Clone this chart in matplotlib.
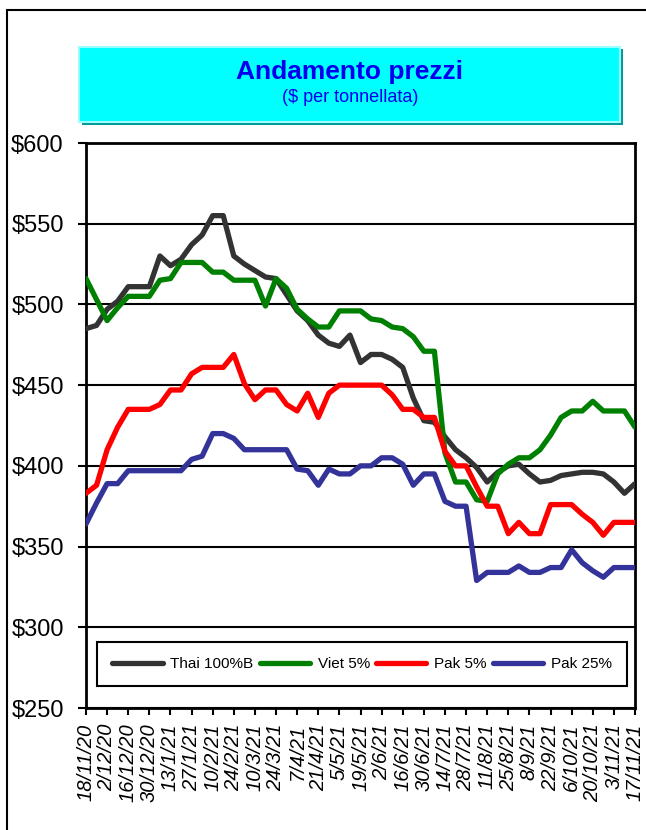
import matplotlib
matplotlib.use("Agg")
import matplotlib.pyplot as plt
from matplotlib.patches import Rectangle

# weekly prices, 18/11/20 .. 17/11/21 ($ per tonne)
thai_100b = [485, 487, 497, 502, 511, 511, 511, 530, 524, 528,
             537, 543, 555, 555, 530, 525, 521, 517, 516, 506,
             496, 490, 481, 476, 474, 481, 464, 469, 469, 466,
             461, 442, 428, 427, 418, 410, 405, 399, 390, 396,
             400, 401, 395, 390, 391, 394, 395, 396, 396, 395,
             390, 383, 389]
viet_5 = [516, 503, 490, 498, 505, 505, 505, 515, 516, 526,
          526, 526, 520, 520, 515, 515, 515, 499, 516, 510,
          497, 491, 486, 486, 496, 496, 496, 491, 490, 486,
          485, 480, 471, 471, 408, 390, 390, 379, 378, 395,
          401, 405, 405, 410, 419, 430, 434, 434, 440, 434,
          434, 434, 424]
pak_5 = [383, 388, 410, 424, 435, 435, 435, 438, 447, 447,
         457, 461, 461, 461, 469, 451, 441, 447, 447, 438,
         434, 445, 430, 445, 450, 450, 450, 450, 450, 444,
         435, 435, 430, 430, 409, 400, 400, 387, 375, 375,
         358, 365, 358, 358, 376, 376, 376, 370, 365, 357,
         365, 365, 365]
pak_25 = [364, 377, 389, 389, 397, 397, 397, 397, 397, 397,
          404, 406, 420, 420, 417, 410, 410, 410, 410, 410,
          398, 397, 388, 398, 395, 395, 400, 400, 405, 405,
          401, 388, 395, 395, 378, 375, 375, 329, 334, 334,
          334, 338, 334, 334, 337, 337, 348, 340, 335, 331,
          337, 337, 337]

date_labels = ['18/11/20', '2/12/20', '16/12/20', '30/12/20', '13/1/21', '27/1/21',
               '10/2/21', '24/2/21', '10/3/21', '24/3/21', '7/4/21', '21/4/21',
               '5/5/21', '19/5/21', '2/6/21', '16/6/21', '30/6/21', '14/7/21',
               '28/7/21', '11/8/21', '25/8/21', '8/9/21', '22/9/21', '6/10/21',
               '20/10/21', '3/11/21', '17/11/21']

series_names = ['Thai 100%B', 'Viet 5%', 'Pak 5%', 'Pak 25%']
series_colors = ['#333333', '#008000', '#ff0000', '#333399']

W, H = 646, 830
fig = plt.figure(figsize=(W / 100, H / 100), dpi=100)
fig.patch.set_facecolor('white')

# outer frame (cut off on right and bottom)
fig.add_artist(Rectangle((7 / W, -0.1), 1.2, 1.1 - 10 / H, fill=False,
                         lw=1.5, ec='black', transform=fig.transFigure))

# title box with shadow
fig.add_artist(Rectangle((82 / W, 1 - 125 / H), 541 / W, 76 / H,
                         fc='#009999', ec='none', transform=fig.transFigure))
fig.add_artist(Rectangle((79 / W, 1 - 122 / H), 541 / W, 75 / H,
                         fc='#00ffff', ec='#99ffff', lw=1.5, transform=fig.transFigure))
fig.text(350 / W, 1 - 72 / H, 'Andamento prezzi', ha='center', va='center',
         fontsize=19, fontweight='bold', color='#0000ee', family='Liberation Sans')
fig.text(350 / W, 1 - 98 / H, '($ per tonnellata)', ha='center', va='center',
         fontsize=13, color='#0000ee', family='Liberation Sans')

ax = fig.add_axes([86 / W, 1 - 708 / H, 549 / W, 565 / H])
x = list(range(len(thai_100b)))
for vals, name, col in zip([thai_100b, viet_5, pak_5, pak_25], series_names, series_colors):
    ax.plot(x, vals, color=col, lw=3.8, label=name, solid_joinstyle='round',
            solid_capstyle='round', zorder=3)

ax.set_xlim(0, len(thai_100b) - 1)
ax.set_ylim(250, 600)
ax.set_yticks(range(250, 601, 50))
ax.set_yticklabels(['$%d' % v for v in range(250, 601, 50)],
                   fontsize=17, family='Liberation Sans')
ax.set_xticks(range(0, len(thai_100b), 2))
ax.set_xticklabels(date_labels, rotation=90, fontsize=14.5, style='italic',
                   family='Liberation Sans')
ax.tick_params(axis='y', direction='out', length=6, width=1.5, pad=10)
ax.tick_params(axis='x', direction='out', length=5, width=1.5, pad=6)
ax.yaxis.grid(True, color='black', lw=1.5, zorder=1)
ax.set_axisbelow(True)
for s in ax.spines.values():
    s.set_linewidth(2)
    s.set_color('black')

leg = ax.legend(loc='center', bbox_to_anchor=(362 / W, 1 - 664 / H),
                bbox_transform=fig.transFigure, ncol=4,
                handlelength=3.3, handletextpad=0.5, columnspacing=0.4,
                borderpad=1.0, borderaxespad=0, fancybox=False, framealpha=1,
                prop={'family': 'Liberation Sans', 'size': 11})
leg.get_frame().set_edgecolor('black')
leg.get_frame().set_linewidth(1.5)

fig.savefig('out.png', dpi=100)
